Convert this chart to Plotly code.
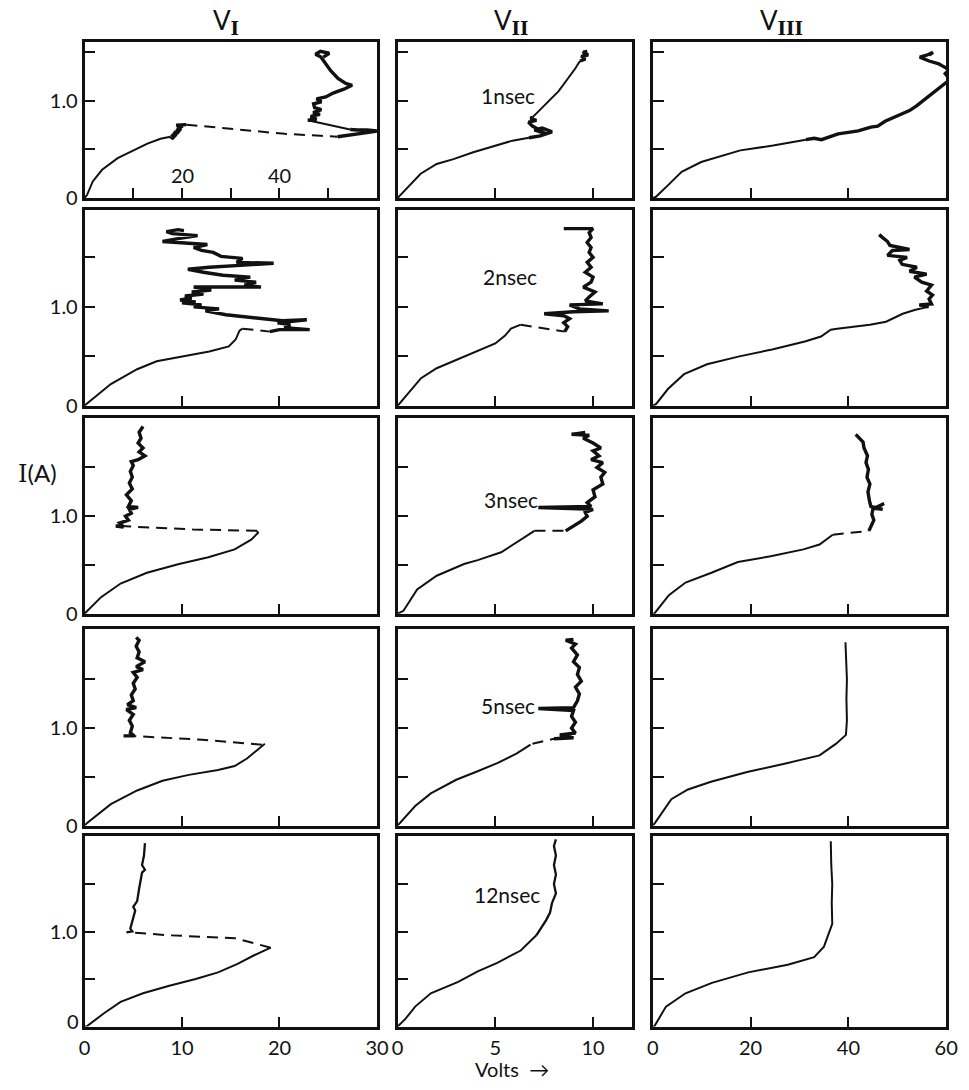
import plotly.graph_objects as go

# ---------------- data (Volts, Amperes) ----------------
# Row 1 : 1 nsec
R1C1_RISE_V = [0, 0.5, 1.7, 3.6, 6.8, 9.6, 12.9, 15.6, 17.6]
R1C1_RISE_I = [0, 0.03, 0.17, 0.29, 0.41, 0.48, 0.56, 0.61, 0.63]
R1C1_KNEE_V = [17.6, 18.3, 17.9, 18.8, 18.4, 19.3, 19.0, 19.8, 19.3, 20.2, 18.8, 20.9]
R1C1_KNEE_I = [0.63, 0.61, 0.65, 0.64, 0.68, 0.67, 0.71, 0.70, 0.73, 0.74, 0.75, 0.755]
R1C1_JUMP_V = [20.9, 31.0, 41.1, 48.5, 51.9]
R1C1_JUMP_I = [0.755, 0.71, 0.66, 0.64, 0.63]
R1C1_EDGE_V = [51.9, 53.5, 55.0, 57.0, 59.0, 60.0, 58.0, 56.0, 54.5]
R1C1_EDGE_I = [0.63, 0.64, 0.655, 0.67, 0.68, 0.69, 0.70, 0.70, 0.705]
R1C1_BACK_V = [54.5, 45.8]
R1C1_BACK_I = [0.705, 0.80]
R1C1_TOP_V = [45.8, 47.6, 46.4, 48.3, 46.9, 48.6, 47.2, 47.0, 48.6, 47.6, 49.5, 51.0,
              53.2, 54.9, 53.6, 52.0, 50.5, 49.5, 48.5, 47.4, 48.4, 50.2, 49.0]
R1C1_TOP_I = [0.80, 0.81, 0.84, 0.86, 0.88, 0.91, 0.93, 0.97, 0.99, 1.02, 1.04, 1.08,
              1.12, 1.16, 1.18, 1.23, 1.31, 1.38, 1.45, 1.48, 1.51, 1.49, 1.45]

R1C2_RISE_V = [0, 0.5, 1.18, 2.0, 2.86, 3.87, 5.04, 5.88, 6.72]
R1C2_RISE_I = [0, 0.11, 0.25, 0.35, 0.40, 0.47, 0.54, 0.59, 0.62]
R1C2_KNOT_V = [6.72, 7.3, 7.9, 7.4, 7.0, 7.6, 6.9, 6.7, 7.1, 6.8, 6.9]
R1C2_KNOT_I = [0.62, 0.64, 0.68, 0.72, 0.70, 0.66, 0.74, 0.78, 0.80, 0.82, 0.83]
R1C2_UP_V = [6.9, 7.4, 8.24, 9.08, 9.33]
R1C2_UP_I = [0.83, 0.93, 1.10, 1.33, 1.41]
R1C2_TOP_V = [9.33, 9.6, 9.4, 9.75, 9.5, 9.7, 9.45]
R1C2_TOP_I = [1.41, 1.43, 1.46, 1.47, 1.50, 1.51, 1.49]

R1C3_RISE_V = [0, 0.6, 3.3, 5.9, 9.9, 17.9, 24.6, 31.3]
R1C3_RISE_I = [0, 0.01, 0.14, 0.27, 0.37, 0.49, 0.54, 0.60]
R1C3_TOP_V = [31.3, 33.0, 34.5, 36.0, 37.9, 40.0, 42.0, 44.6, 46.0, 47.5, 49.3, 51.0, 52.5,
              54.0, 56.0, 58.0, 59.5, 60.8, 59.8, 60.6, 59.2, 58.5, 56.5, 54.6, 56.0, 57.3, 56.5]
R1C3_TOP_I = [0.60, 0.615, 0.60, 0.63, 0.66, 0.675, 0.69, 0.73, 0.74, 0.79, 0.83, 0.86, 0.90,
              0.95, 1.03, 1.12, 1.18, 1.22, 1.28, 1.32, 1.36, 1.38, 1.41, 1.45, 1.47, 1.50, 1.47]

# Row 2 : 2 nsec
R2C1_RISE_V = [0, 0.2, 2.7, 5.4, 7.4, 10.1, 12.8, 14.8, 15.5, 15.9, 16.2]
R2C1_RISE_I = [0, 0.02, 0.22, 0.37, 0.45, 0.50, 0.55, 0.60, 0.67, 0.76, 0.78]
R2C1_JUMP_V = [16.2, 19.0]
R2C1_JUMP_I = [0.78, 0.75]
R2C1_TOP_V = [19.0, 20.0, 23.1, 20.5, 21.1, 19.8, 22.8, 20.3, 14.5, 13.6, 12.4, 13.8, 11.2, 12.0,
              10.0, 11.4, 9.8, 11.0, 10.3, 12.2, 11.0, 13.0, 11.2, 18.1, 16.4, 17.6, 15.4, 17.0,
              14.2, 12.2, 10.6, 12.8, 19.4, 15.6, 16.2, 14.0, 13.2, 12.0, 11.2, 12.6, 10.0, 8.0,
              9.6, 11.6, 9.0, 8.4, 9.6, 10.2]
R2C1_TOP_I = [0.75, 0.77, 0.77, 0.79, 0.82, 0.84, 0.87, 0.86, 0.92, 0.94, 0.96, 0.98, 1.00, 1.02,
              1.04, 1.05, 1.07, 1.09, 1.11, 1.13, 1.15, 1.17, 1.20, 1.20, 1.22, 1.25, 1.27, 1.30,
              1.32, 1.35, 1.38, 1.40, 1.44, 1.45, 1.49, 1.51, 1.55, 1.57, 1.60, 1.63, 1.65, 1.66,
              1.69, 1.72, 1.74, 1.76, 1.78, 1.77]

R2C2_RISE_V = [0, 0.7, 1.2, 2.0, 3.4, 4.1, 5.0, 5.5, 5.8, 6.3]
R2C2_RISE_I = [0, 0.17, 0.28, 0.38, 0.50, 0.56, 0.63, 0.71, 0.78, 0.82]
R2C2_JUMP_V = [6.3, 8.55]
R2C2_JUMP_I = [0.82, 0.75]
R2C2_TOP_V = [8.55, 8.7, 8.5, 8.8, 8.5, 7.5, 9.0, 10.8, 9.3, 8.8, 10.5, 9.6, 9.8, 10.1, 9.5, 9.9,
              10.0, 9.6, 9.9, 9.7, 10.0, 9.8, 9.9, 9.7, 9.9, 9.8, 10.0, 8.5]
R2C2_TOP_I = [0.75, 0.80, 0.84, 0.88, 0.91, 0.93, 0.95, 0.96, 0.98, 1.02, 1.03, 1.06, 1.10, 1.15,
              1.20, 1.25, 1.30, 1.35, 1.40, 1.45, 1.50, 1.55, 1.60, 1.65, 1.70, 1.75, 1.79, 1.79]

R2C3_RISE_V = [0, 0.7, 3.1, 6.4, 11.1, 17.7, 24.4, 31.1, 34.4, 36.4, 37.7, 44.4, 47.7, 51.1, 53.7, 56.4]
R2C3_RISE_I = [0, 0.02, 0.17, 0.32, 0.42, 0.50, 0.57, 0.65, 0.70, 0.77, 0.78, 0.82, 0.85, 0.93, 0.97, 1.0]
R2C3_TOP_V = [56.4, 54.5, 57.0, 56.5, 57.2, 56.0, 57.0, 55.0, 53.5, 56.0, 52.5, 54.0, 51.0, 50.5,
              52.0, 48.0, 49.0, 52.5, 48.5, 48.0, 47.0, 46.3]
R2C3_TOP_I = [1.0, 1.02, 1.03, 1.08, 1.12, 1.16, 1.22, 1.25, 1.30, 1.33, 1.36, 1.40, 1.43, 1.47,
              1.50, 1.52, 1.57, 1.58, 1.62, 1.66, 1.70, 1.73]

# Row 3 : 3 nsec
R3C1_RISE_V = [0, 0.3, 1.7, 3.7, 6.4, 9.7, 12.7, 15.4, 17.1, 17.8, 17.7]
R3C1_RISE_I = [0, 0.03, 0.17, 0.31, 0.42, 0.51, 0.58, 0.66, 0.76, 0.83, 0.85]
R3C1_JUMP_V = [17.7, 11.1, 3.5]
R3C1_JUMP_I = [0.85, 0.865, 0.90]
R3C1_TOP_V = [3.5, 3.2, 4.0, 3.6, 4.5, 4.2, 4.8, 4.6, 5.5, 4.5, 4.8, 4.3, 4.9, 4.6, 4.9, 4.7, 5.0,
              4.8, 5.5, 6.2, 5.6, 6.0, 5.5, 5.8, 5.6, 6.0]
R3C1_TOP_I = [0.90, 0.90, 0.89, 0.93, 0.96, 1.0, 1.03, 1.07, 1.09, 1.10, 1.16, 1.22, 1.28, 1.34,
              1.40, 1.46, 1.52, 1.56, 1.58, 1.62, 1.66, 1.70, 1.75, 1.80, 1.86, 1.92]

R3C2_RISE_V = [0, 0.3, 1.0, 2.0, 3.4, 4.1, 5.3, 6.1, 7.0]
R3C2_RISE_I = [0, 0.03, 0.25, 0.39, 0.51, 0.55, 0.63, 0.73, 0.85]
R3C2_JUMP_V = [7.0, 8.6]
R3C2_JUMP_I = [0.85, 0.85]
R3C2_TOP_V = [8.6, 9.0, 9.4, 9.7, 9.6, 10.0, 7.2, 9.9, 9.7, 10.1, 10.0, 10.5, 10.4, 10.6, 10.2,
              10.5, 9.9, 10.3, 10.0, 10.4, 10.0, 9.5, 9.8, 8.9, 9.6]
R3C2_TOP_I = [0.85, 0.90, 0.95, 1.0, 1.04, 1.07, 1.09, 1.10, 1.14, 1.20, 1.27, 1.33, 1.40, 1.45,
              1.50, 1.55, 1.58, 1.62, 1.67, 1.70, 1.75, 1.80, 1.83, 1.84, 1.86]

R3C3_RISE_V = [0, 0.3, 3.3, 6.7, 12.0, 17.4, 24.1, 30.8, 34.1, 36.1, 36.8]
R3C3_RISE_I = [0, 0.0, 0.19, 0.32, 0.42, 0.53, 0.59, 0.66, 0.71, 0.78, 0.81]
R3C3_JUMP_V = [36.8, 44.2]
R3C3_JUMP_I = [0.81, 0.85]
R3C3_TOP_V = [44.2, 44.6, 45.2, 44.8, 45.0, 47.3, 45.2, 47.0, 44.6, 44.3, 44.0, 44.4, 43.8, 44.1,
              43.6, 43.9, 43.2, 43.0, 42.0, 41.5]
R3C3_TOP_I = [0.85, 0.90, 0.96, 1.02, 1.07, 1.13, 1.08, 1.07, 1.10, 1.16, 1.25, 1.33, 1.40, 1.48,
              1.55, 1.62, 1.70, 1.76, 1.81, 1.84]

# Row 4 : 5 nsec
R4C1_RISE_V = [0, 0.3, 2.7, 5.4, 8.0, 10.7, 13.7, 15.4, 16.7, 17.8, 18.5]
R4C1_RISE_I = [0, 0.03, 0.22, 0.36, 0.46, 0.52, 0.57, 0.61, 0.69, 0.78, 0.84]
R4C1_JUMP_V = [18.2, 12.1, 4.7]
R4C1_JUMP_I = [0.83, 0.88, 0.92]
R4C1_TOP_V = [4.0, 5.1, 4.7, 4.9, 4.6, 5.0, 4.3, 5.3, 4.4, 5.0, 4.8, 5.2, 5.0, 5.4, 5.0, 6.0, 5.3,
              6.2, 5.4, 5.6, 5.3, 5.6, 5.3]
R4C1_TOP_I = [0.92, 0.92, 0.95, 1.02, 1.08, 1.14, 1.19, 1.21, 1.24, 1.28, 1.34, 1.40, 1.46, 1.52,
              1.57, 1.60, 1.63, 1.68, 1.72, 1.78, 1.84, 1.90, 1.93]

R4C2_RISE_V = [0, 0.9, 1.7, 3.0, 4.0, 5.1, 6.1, 6.8]
R4C2_RISE_I = [0, 0.20, 0.33, 0.47, 0.55, 0.64, 0.74, 0.83]
R4C2_JUMP_V = [6.9, 8.0]
R4C2_JUMP_I = [0.84, 0.89]
R4C2_TOP_V = [8.0, 9.0, 8.3, 9.1, 8.9, 9.1, 8.9, 9.0, 7.2, 9.0, 9.2, 9.3, 9.1, 9.4, 9.2, 9.3, 9.0,
              9.2, 8.9, 9.1, 8.6, 9.0]
R4C2_TOP_I = [0.89, 0.90, 0.93, 0.95, 1.0, 1.06, 1.12, 1.18, 1.20, 1.21, 1.28, 1.35, 1.42, 1.48,
              1.55, 1.62, 1.68, 1.75, 1.82, 1.86, 1.90, 1.91]

R4C3_V = [0, 0.5, 3.8, 7.2, 11.9, 19.3, 27.4, 34.1, 37.5, 39.5, 39.7, 39.6, 39.7, 39.5, 39.4]
R4C3_I = [0, 0.03, 0.27, 0.37, 0.45, 0.55, 0.64, 0.72, 0.84, 0.93, 1.08, 1.3, 1.5, 1.7, 1.88]

# Row 5 : 12 nsec
R5C1_RISE_V = [0, 0.2, 2.0, 3.7, 6.0, 8.7, 11.4, 13.7, 15.7, 17.4, 19.1]
R5C1_RISE_I = [0, 0.0, 0.14, 0.26, 0.35, 0.43, 0.50, 0.57, 0.66, 0.75, 0.83]
R5C1_JUMP_V = [19.1, 15.4, 8.7, 4.7]
R5C1_JUMP_I = [0.83, 0.93, 0.96, 0.99]
R5C1_TOP_V = [4.3, 4.9, 4.7, 4.9, 5.2, 5.0, 5.4, 5.6, 5.8, 5.9, 6.2, 5.9, 6.1, 6.2]
R5C1_TOP_I = [0.99, 1.0, 1.03, 1.12, 1.22, 1.26, 1.32, 1.45, 1.55, 1.62, 1.65, 1.70, 1.80, 1.93]

R5C2_RISE_V = [0, 0.4, 0.9, 1.7, 3.1, 4.1, 5.1, 6.3, 7.1]
R5C2_RISE_I = [0, 0.08, 0.21, 0.35, 0.47, 0.58, 0.67, 0.80, 0.96]
R5C2_TOP_V = [7.1, 7.4, 7.6, 7.8, 7.9, 8.1, 8.0, 8.1, 8.0, 8.1, 8.0, 8.1]
R5C2_TOP_I = [0.96, 1.05, 1.12, 1.2, 1.3, 1.4, 1.5, 1.6, 1.7, 1.8, 1.9, 1.97]

R5C3_V = [0, 0.3, 2.7, 6.7, 12.1, 19.5, 27.6, 33.0, 35.0, 36.0, 36.7, 36.6, 36.7, 36.5, 36.4]
R5C3_I = [0, 0.0, 0.21, 0.35, 0.46, 0.57, 0.65, 0.73, 0.84, 0.98, 1.08, 1.3, 1.5, 1.7, 1.95]

COLUMN_NUMERALS = ["I", "II", "III"]
PULSE_LABELS = ["1nsec", "2nsec", "3nsec", "5nsec", "12nsec"]
X_RANGES = [[[0, 60], [0, 12], [0, 60]]] + [[[0, 30], [0, 12], [0, 60]]] * 4
Y_TOPS = [1.61, 1.98, 2.01, 2.02, 2.0]
X_TICKS = [[[10, 20, 30, 40, 50], [5, 10], [20, 40]]] + [[[10, 20], [5, 10], [20, 40]]] * 4
X_TICK_VALS_BOTTOM = [[0, 10, 20, 30], [0, 5, 10], [0, 20, 40, 60]]
X_TICK_LABELS_BOTTOM = [["0", "10", "20", "30"], ["0", "5", "10"], ["0", "20", "40", "60"]]
Y_TICKS = [0, 0.5, 1.0, 1.5]
Y_TICK_LABELS = ["0", "", "1.0", ""]
INNER_LABELS = [20, 40]

# segments: (row, col, style, V, I)
SEGMENTS = [
    (0, 0, "line", R1C1_RISE_V, R1C1_RISE_I), (0, 0, "noisy", R1C1_KNEE_V, R1C1_KNEE_I),
    (0, 0, "dash", R1C1_JUMP_V, R1C1_JUMP_I), (0, 0, "noisy", R1C1_EDGE_V, R1C1_EDGE_I),
    (0, 0, "line", R1C1_BACK_V, R1C1_BACK_I), (0, 0, "noisy", R1C1_TOP_V, R1C1_TOP_I),
    (0, 1, "line", R1C2_RISE_V, R1C2_RISE_I), (0, 1, "noisy", R1C2_KNOT_V, R1C2_KNOT_I),
    (0, 1, "line", R1C2_UP_V, R1C2_UP_I), (0, 1, "noisy", R1C2_TOP_V, R1C2_TOP_I),
    (0, 2, "line", R1C3_RISE_V, R1C3_RISE_I), (0, 2, "noisy", R1C3_TOP_V, R1C3_TOP_I),
    (1, 0, "line", R2C1_RISE_V, R2C1_RISE_I), (1, 0, "dash", R2C1_JUMP_V, R2C1_JUMP_I),
    (1, 0, "noisy", R2C1_TOP_V, R2C1_TOP_I),
    (1, 1, "line", R2C2_RISE_V, R2C2_RISE_I), (1, 1, "dash", R2C2_JUMP_V, R2C2_JUMP_I),
    (1, 1, "noisy", R2C2_TOP_V, R2C2_TOP_I),
    (1, 2, "line", R2C3_RISE_V, R2C3_RISE_I), (1, 2, "noisy", R2C3_TOP_V, R2C3_TOP_I),
    (2, 0, "line", R3C1_RISE_V, R3C1_RISE_I), (2, 0, "dash", R3C1_JUMP_V, R3C1_JUMP_I),
    (2, 0, "noisy", R3C1_TOP_V, R3C1_TOP_I),
    (2, 1, "line", R3C2_RISE_V, R3C2_RISE_I), (2, 1, "dash", R3C2_JUMP_V, R3C2_JUMP_I),
    (2, 1, "noisy", R3C2_TOP_V, R3C2_TOP_I),
    (2, 2, "line", R3C3_RISE_V, R3C3_RISE_I), (2, 2, "dash", R3C3_JUMP_V, R3C3_JUMP_I),
    (2, 2, "noisy", R3C3_TOP_V, R3C3_TOP_I),
    (3, 0, "line", R4C1_RISE_V, R4C1_RISE_I), (3, 0, "dash", R4C1_JUMP_V, R4C1_JUMP_I),
    (3, 0, "noisy", R4C1_TOP_V, R4C1_TOP_I),
    (3, 1, "line", R4C2_RISE_V, R4C2_RISE_I), (3, 1, "dash", R4C2_JUMP_V, R4C2_JUMP_I),
    (3, 1, "noisy", R4C2_TOP_V, R4C2_TOP_I),
    (3, 2, "line", R4C3_V, R4C3_I),
    (4, 0, "line", R5C1_RISE_V, R5C1_RISE_I), (4, 0, "dash", R5C1_JUMP_V, R5C1_JUMP_I),
    (4, 0, "thin", R5C1_TOP_V, R5C1_TOP_I),
    (4, 1, "line", R5C2_RISE_V, R5C2_RISE_I), (4, 1, "thin", R5C2_TOP_V, R5C2_TOP_I),
    (4, 2, "line", R5C3_V, R5C3_I),
]

# ---------------- layout geometry (pixels) ----------------
W, H = 969, 1090
COL_PX = [(80, 378), (399, 638), (659, 958)]
ROW_PX = [(42, 200), (212, 410), (422, 620), (635, 834), (845, 1037)]
FONT = "Lato, 'Open Sans', sans-serif"
INK = "#111111"

STYLES = {
    "line": dict(width=2.0),
    "thin": dict(width=2.3),
    "noisy": dict(width=3.4),
    "dash": dict(width=2.0, dash="11px,7px"),
}

fig = go.Figure()


def axis_id(r, c):
    return r * 3 + c + 1


for r, c, style, v, i in SEGMENTS:
    k = axis_id(r, c)
    fig.add_trace(go.Scatter(
        x=v, y=i, mode="lines", showlegend=False, hoverinfo="skip",
        line=dict(color=INK, shape="linear", **STYLES[style]),
        xaxis="x" if k == 1 else f"x{k}", yaxis="y" if k == 1 else f"y{k}",
    ))

layout = dict(
    width=W, height=H, autosize=False,
    margin=dict(l=0, r=0, t=0, b=0, pad=0),
    paper_bgcolor="white", plot_bgcolor="white",
    font=dict(family=FONT, color=INK, size=18),
    showlegend=False,
)

for r in range(5):
    for c in range(3):
        k = axis_id(r, c)
        xs = "" if k == 1 else str(k)
        x0, x1 = COL_PX[c]
        y0, y1 = ROW_PX[r]
        tv = sorted(set(X_TICKS[r][c]) | (set(X_TICK_VALS_BOTTOM[c]) if r == 4 else set()))
        if r == 4:
            lab = dict(zip(X_TICK_VALS_BOTTOM[c], X_TICK_LABELS_BOTTOM[c]))
            tt = [lab.get(t, "") for t in tv]
        else:
            tt = [""] * len(tv)
        layout["xaxis" + xs] = dict(
            domain=[x0 / W, x1 / W], range=X_RANGES[r][c], anchor="y" + xs,
            showline=True, mirror=True, linecolor=INK, linewidth=2.6,
            ticks="inside", ticklen=10, tickwidth=2, tickcolor=INK,
            tickmode="array", tickvals=tv, ticktext=tt, ticklabelstandoff=2,
            tickfont=dict(size=20, family=FONT),
            showgrid=False, zeroline=False, fixedrange=True,
        )
        if c == 0 and r != 4:
            ytt = Y_TICK_LABELS
        elif c == 0:
            ytt = [""] + Y_TICK_LABELS[1:]
        else:
            ytt = [""] * len(Y_TICKS)
        layout["yaxis" + xs] = dict(
            domain=[1 - y1 / H, 1 - y0 / H], range=[0, Y_TOPS[r]], anchor="x" + xs,
            showline=True, mirror=True, linecolor=INK, linewidth=2.6,
            ticks="inside", ticklen=11, tickwidth=2, tickcolor=INK,
            tickmode="array", tickvals=Y_TICKS, ticktext=ytt,
            tickfont=dict(size=20, family=FONT),
            showgrid=False, zeroline=False, fixedrange=True,
        )

fig.update_layout(**layout)


def pann(px, py, text, size):
    return dict(x=px / W, y=1 - py / H, xref="paper", yref="paper", text=text,
                showarrow=False, xanchor="center", yanchor="middle",
                font=dict(size=size, family=FONT, color=INK))


ann = []
# column titles: V with Roman-numeral subscript
for px, num in zip([224, 515, 790], COLUMN_NUMERALS):
    ann.append(pann(px, 22, f"V<sub><span style='font-family:DejaVu Serif'><b>{num}</b></span></sub>", 26))
# pulse-length labels
for lab, px, py in zip(PULSE_LABELS, [512, 514, 515, 512, 510], [96, 279, 505, 713, 904]):
    ann.append(pann(px, py, lab, 21))
# inner scale labels of the first 1 nsec panel
for val in INNER_LABELS:
    ann.append(dict(x=val, y=0.24, xref="x", yref="y", text=str(val), showarrow=False,
                    xanchor="center", yanchor="middle", font=dict(size=20, family=FONT)))
# raised "0" of the bottom-left panel
ann.append(pann(68, 1031, "0", 20))
# axis titles
ann.append(pann(32, 478, "<span style='font-family:DejaVu Serif'>I</span>(A)", 24))
ann.append(pann(516, 1080, "Volts  →", 20))
fig.update_layout(annotations=ann)

fig.write_html("out.html")
